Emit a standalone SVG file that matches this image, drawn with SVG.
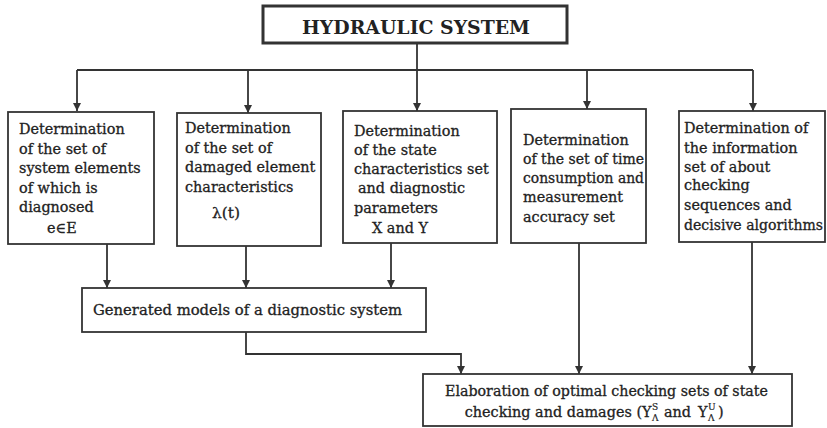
<svg xmlns="http://www.w3.org/2000/svg" width="827" height="428" viewBox="0 0 827 428">
<style>
.box{fill:#fff;stroke:#333;stroke-width:1.8}
.tb{fill:#fff;stroke:#333;stroke-width:3}
.t{font-family:"DejaVu Serif","Liberation Serif",serif;font-size:14.4px;fill:#222;stroke:#222;stroke-width:0.3}
.title{font-family:"DejaVu Serif","Liberation Serif",serif;font-size:18.5px;font-weight:bold;fill:#222}
.s{font-family:"DejaVu Serif","Liberation Serif",serif;font-size:9px;fill:#222;stroke:#222;stroke-width:0.2}
.c{fill:none;stroke:#333;stroke-width:1.8}
</style>
<defs>
<marker id="ah" viewBox="0 0 8 14" refX="8" refY="7" markerWidth="8" markerHeight="14" markerUnits="userSpaceOnUse" orient="auto">
<path d="M0,3 L8,7 L0,11 z" fill="#333"/>
</marker>
</defs>
<rect width="827" height="428" fill="#fff"/>
<g id="connectors">
<path class="c" d="M417,43 V70"/>
<path class="c" d="M77,70 H753"/>
<path class="c" d="M77,70 V111" marker-end="url(#ah)"/>
<path class="c" d="M248,70 V113" marker-end="url(#ah)"/>
<path class="c" d="M417,70 V111" marker-end="url(#ah)"/>
<path class="c" d="M587,70 V109" marker-end="url(#ah)"/>
<path class="c" d="M753,70 V111" marker-end="url(#ah)"/>
<path class="c" d="M107,244 V288" marker-end="url(#ah)"/>
<path class="c" d="M246,246 V288" marker-end="url(#ah)"/>
<path class="c" d="M391,243 V288" marker-end="url(#ah)"/>
<path class="c" d="M579,243 V374" marker-end="url(#ah)"/>
<path class="c" d="M752,242 V374" marker-end="url(#ah)"/>
<path class="c" d="M246,332 V354 H461 V374" marker-end="url(#ah)"/>
</g>
<g id="title">
<rect class="tb" x="263" y="6" width="304" height="37"/>
<text class="title" x="416" y="34" text-anchor="middle" textLength="228" lengthAdjust="spacingAndGlyphs">HYDRAULIC SYSTEM</text>
</g>
<g id="box1">
<rect class="box" x="8" y="112" width="146" height="132"/>
<text class="t" x="19" y="134">Determination</text>
<text class="t" x="19" y="154">of the set of</text>
<text class="t" x="19" y="173">system elements</text>
<text class="t" x="19" y="193">of which is</text>
<text class="t" x="19" y="212">diagnosed</text>
<text class="t" x="47" y="233">e∈E</text>
</g>
<g id="box2">
<rect class="box" x="177" y="113" width="144" height="133"/>
<text class="t" x="185" y="133">Determination</text>
<text class="t" x="185" y="153">of the set of</text>
<text class="t" x="185" y="172">damaged element</text>
<text class="t" x="185" y="192">characteristics</text>
<text class="t" x="212" y="218" style="font-size:15.5px">λ(t)</text>
</g>
<g id="box3">
<rect class="box" x="343" y="111" width="154" height="132"/>
<text class="t" x="354" y="136">Determination</text>
<text class="t" x="354" y="155">of the state</text>
<text class="t" x="354" y="174">characteristics set</text>
<text class="t" x="358" y="193">and diagnostic</text>
<text class="t" x="354" y="213">parameters</text>
<text class="t" x="372" y="233">X and Y</text>
</g>
<g id="box4">
<rect class="box" x="511" y="109" width="135" height="134"/>
<text class="t" x="523" y="145">Determination</text>
<text class="t" x="523" y="164" textLength="121" lengthAdjust="spacingAndGlyphs">of the set of time</text>
<text class="t" x="523" y="183" textLength="121" lengthAdjust="spacingAndGlyphs">consumption and</text>
<text class="t" x="523" y="202">measurement</text>
<text class="t" x="523" y="222">accuracy set</text>
</g>
<g id="box5">
<rect class="box" x="679" y="111" width="146" height="131"/>
<text class="t" x="684" y="133">Determination of</text>
<text class="t" x="684" y="153">the information</text>
<text class="t" x="684" y="172">set of about</text>
<text class="t" x="684" y="190">checking</text>
<text class="t" x="684" y="210">sequences and</text>
<text class="t" x="684" y="230" textLength="139" lengthAdjust="spacingAndGlyphs">decisive algorithms</text>
</g>
<g id="generated">
<rect class="box" x="82" y="288" width="344" height="44"/>
<text class="t" x="93" y="315" textLength="309" lengthAdjust="spacingAndGlyphs">Generated models of a diagnostic system</text>
</g>
<g id="elaboration">
<rect class="box" x="423" y="374" width="369" height="52"/>
<text class="t" x="445" y="396" textLength="323" lengthAdjust="spacingAndGlyphs">Elaboration of optimal checking sets of state</text>
<text class="t" x="642" y="417" text-anchor="end">checking and damages (</text>
<text class="t" x="642" y="417">Y</text>
<text class="s" x="652" y="410">S</text>
<text class="s" x="652" y="421">Λ</text>
<text class="t" x="664" y="417">and</text>
<text class="t" x="698" y="417">Y</text>
<text class="s" x="708" y="410">U</text>
<text class="s" x="708" y="421">Λ</text>
<text class="t" x="718" y="417">)</text>
</g>
</svg>
